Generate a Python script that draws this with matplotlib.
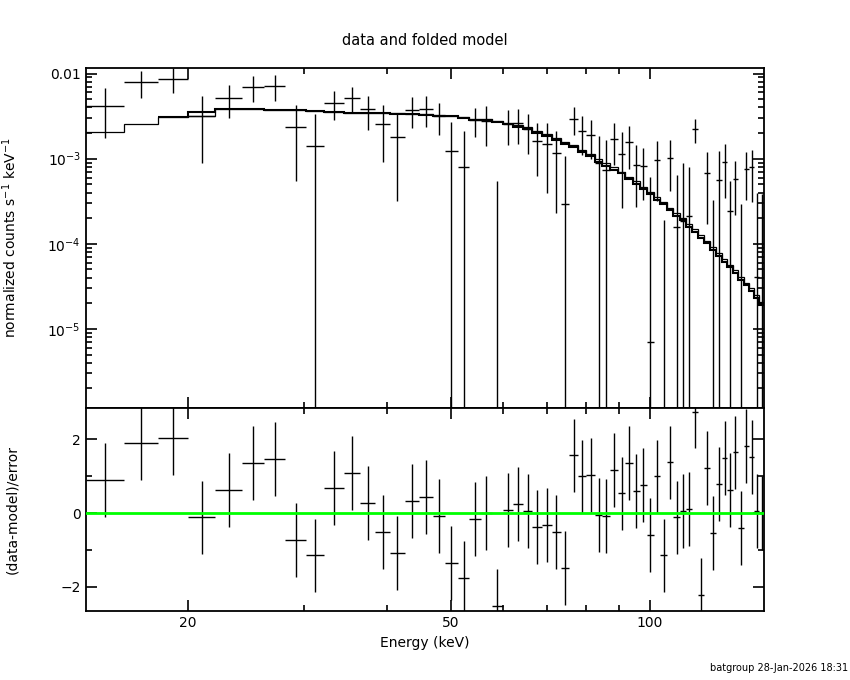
import numpy as np
import matplotlib
matplotlib.use("Agg")
import matplotlib.pyplot as plt
from matplotlib.ticker import FixedLocator, FixedFormatter, NullFormatter

# bin edges in keV (59 bins, 14-150 keV)
edges = np.array([14.0, 16.0, 18.0, 20.0, 22.0, 24.1, 26.1, 28.0, 30.2, 32.1,
                  34.4, 36.4, 38.4, 40.4, 42.6, 44.7, 47.0, 49.0, 51.2, 53.3,
                  55.5, 57.7, 59.9, 62.1, 64.3, 66.4, 68.8, 71.1, 73.4, 75.6,
                  77.9, 80.2, 82.5, 84.8, 87.2, 89.5, 91.9, 94.3, 96.6, 99.0,
                  101.4, 103.8, 106.2, 108.6, 111.1, 113.6, 116.0, 118.5, 121.0, 123.5,
                  126.1, 128.6, 131.0, 133.5, 136.1, 138.7, 141.3, 143.9, 146.5, 149.1])

# normalized counts s^-1 keV^-1
flux = np.array([4.21e-3, 7.9e-3, 8.73e-3, 3.2e-3, 5.23e-3, 6.95e-3, 7.23e-3, 2.38e-3, 1.42e-3, 4.56e-3,
                 5.23e-3, 3.84e-3, 2.58e-3, 1.82e-3, 3.77e-3, 3.88e-3, 3.2e-3, 1.24e-3, 7.9e-4, 2.88e-3,
                 2.8e-3, -8.7e-4, 2.57e-3, 2.65e-3, 2.22e-3, 1.63e-3, 1.5e-3, 1.18e-3, 2.9e-4, 2.96e-3,
                 2.13e-3, 1.91e-3, 9.0e-4, 7.4e-4, 1.72e-3, 1.15e-3, 1.58e-3, 8.5e-4, 8.3e-4, 7.0e-6,
                 9.7e-4, -4.0e-4, 1.03e-3, 1.56e-4, 1.87e-4, 2.1e-4, 2.21e-3, -1.0e-3, 6.8e-4, -1.6e-4,
                 5.66e-4, 9.2e-4, 2.44e-4, 5.8e-4, -1.3e-4, 7.6e-4, 7.9e-4, 4.1e-5, 2.0e-5])

flux_err = np.array([2.48e-3, 2.8e-3, 2.8e-3, 2.3e-3, 2.2e-3, 2.35e-3, 2.5e-3, 1.84e-3, 1.96e-3, 1.75e-3,
                     1.67e-3, 1.67e-3, 1.66e-3, 1.5e-3, 1.5e-3, 1.53e-3, 1.28e-3, 1.43e-3, 1.3e-3, 1.1e-3,
                     1.4e-3, 1.41e-3, 1.13e-3, 1.15e-3, 1.1e-3, 1.0e-3, 1.1e-3, 9.5e-4, 7.9e-4, 1.06e-3,
                     1.02e-3, 9.1e-4, 9.3e-4, 9.0e-4, 8.8e-4, 8.9e-4, 8.2e-4, 5.8e-4, 5.0e-4, 6.1e-4,
                     6.5e-4, 5.9e-4, 6.1e-4, 4.8e-4, 7.1e-4, 5.8e-4, 6.9e-4, 5.0e-4, 5.1e-4, 4.9e-4,
                     6.5e-4, 5.7e-4, 3.1e-4, 3.6e-4, 4.2e-4, 4.3e-4, 4.8e-4, 3.5e-4, 3.7e-4])

# folded model (thick line starts at the third bin)
model = np.array([3.08e-3, 3.53e-3, 3.84e-3, 3.88e-3, 3.77e-3, 3.73e-3, 3.67e-3, 3.51e-3,
                  3.41e-3, 3.41e-3, 3.41e-3, 3.38e-3, 3.38e-3, 3.3e-3, 3.17e-3, 3.17e-3, 3.0e-3, 2.88e-3,
                  2.85e-3, 2.7e-3, 2.55e-3, 2.35e-3, 2.23e-3, 2.02e-3, 1.83e-3, 1.67e-3, 1.49e-3, 1.36e-3,
                  1.21e-3, 1.07e-3, 9.2e-4, 8.3e-4, 7.4e-4, 6.7e-4, 5.7e-4, 5.1e-4, 4.4e-4, 3.87e-4,
                  3.3e-4, 2.9e-4, 2.47e-4, 2.13e-4, 1.88e-4, 1.57e-4, 1.38e-4, 1.16e-4, 1.01e-4, 8.5e-5,
                  7.2e-5, 6.2e-5, 5.3e-5, 4.5e-5, 3.8e-5, 3.26e-5, 2.77e-5, 2.3e-5, 1.93e-5])

model_thin = np.array([2.08e-3, 2.58e-3, 3.08e-3, 3.2e-3, 3.84e-3, 3.88e-3, 3.77e-3, 3.70e-3, 3.62e-3, 3.51e-3,
                       3.45e-3, 3.43e-3, 3.41e-3, 3.41e-3, 3.36e-3, 3.33e-3, 3.22e-3, 3.14e-3, 3.05e-3, 2.95e-3,
                       2.9e-3, 2.78e-3, 2.62e-3, 2.5e-3, 2.33e-3, 2.12e-3, 1.93e-3, 1.76e-3, 1.58e-3, 1.43e-3,
                       1.28e-3, 1.13e-3, 9.9e-4, 8.8e-4, 7.9e-4, 7.0e-4, 6.1e-4, 5.4e-4, 4.7e-4, 4.1e-4,
                       3.55e-4, 3.1e-4, 2.65e-4, 2.3e-4, 2.0e-4, 1.7e-4, 1.48e-4, 1.26e-4, 1.08e-4, 9.2e-5,
                       7.8e-5, 6.7e-5, 5.7e-5, 4.9e-5, 4.1e-5, 3.5e-5, 3.0e-5, 2.5e-5, 2.1e-5])

# (data-model)/error
resid = np.array([0.89, 1.89, 2.02, -0.12, 0.62, 1.35, 1.46, -0.74, -1.15, 0.67,
                  1.08, 0.26, -0.52, -1.09, 0.33, 0.43, -0.08, -1.36, -1.77, -0.16,
                  0.0, -2.53, 0.08, 0.24, 0.05, -0.39, -0.33, -0.52, -1.50, 1.56,
                  0.99, 1.02, -0.05, -0.08, 1.16, 0.53, 1.36, 0.60, 0.75, -0.60,
                  0.99, -1.15, 1.37, -0.12, 0.05, 0.10, 2.75, -2.23, 1.21, -0.55,
                  0.78, 1.48, 0.62, 1.64, -0.41, 1.81, 1.51, 0.05, 0.0])

top_ticks = [1e-5, 1e-4, 1e-3, 1e-2]
top_labels = [r'$10^{-5}$', r'$10^{-4}$', r'$10^{-3}$', '0.01']
x_ticks = [20, 50, 100]
x_labels = ['20', '50', '100']

emid = 0.5 * (edges[:-1] + edges[1:])
elo = edges[:-1]
ehi = edges[1:]
floor = 1e-8

fig = plt.figure(figsize=(8.5, 6.8), dpi=100)
ax1 = fig.add_axes([0.1008, 0.4, 0.7984, 0.4996])
ax2 = fig.add_axes([0.1008, 0.101, 0.7984, 0.299], sharex=ax1)

# top panel: data crosses
pos = flux > 0
ax1.hlines(flux[pos], elo[pos], ehi[pos], color='k', lw=1.0)
top = flux + flux_err
bot = np.where(flux - flux_err > 0, flux - flux_err, floor)
vis = top > 0
ax1.vlines(emid[vis], bot[vis], top[vis], color='k', lw=1.0)

ax1.stairs(model_thin, edges, color='k', lw=0.9, baseline=None)
ax1.stairs(model, edges[2:], color='k', lw=1.5, baseline=None)

ax1.set_xscale('log')
ax1.set_yscale('log')
ax1.set_xlim(14.0, 149.1)
ax1.set_ylim(1.18e-6, 1.153e-2)
ax1.yaxis.set_major_locator(FixedLocator(top_ticks))
ax1.yaxis.set_major_formatter(FixedFormatter(top_labels))
ax1.set_ylabel(r'normalized counts s$^{-1}$ keV$^{-1}$', fontsize=10)
ax1.set_title('data and folded model', fontsize=10.5, pad=17)

# bottom panel: residuals
ax2.errorbar(emid, resid, xerr=[emid - elo, ehi - emid], yerr=1.0,
             fmt='none', ecolor='k', elinewidth=1.0, capsize=0)
ax2.axhline(0.0, color='#00ff00', lw=2.0, zorder=3)
ax2.set_ylim(-2.664, 2.845)
ax2.yaxis.set_major_locator(FixedLocator([-2, 0, 2]))
ax2.yaxis.set_minor_locator(FixedLocator([-1, 1]))
ax2.set_ylabel('(data-model)/error', fontsize=10)
ax2.set_xlabel('Energy (keV)', fontsize=10)

ax2.xaxis.set_major_locator(FixedLocator(x_ticks))
ax2.xaxis.set_major_formatter(FixedFormatter(x_labels))
ax2.xaxis.set_minor_locator(FixedLocator([30, 40, 60, 70, 80, 90]))
ax2.xaxis.set_minor_formatter(NullFormatter())
plt.setp(ax1.get_xticklabels(), visible=False)

for ax in (ax1, ax2):
    ax.tick_params(which='both', direction='in', top=True, right=True,
                   labelsize=10, width=1.2)
    ax.tick_params(which='major', length=8)
    ax.tick_params(which='minor', length=4)
    for s in ax.spines.values():
        s.set_linewidth(1.3)
    ax.yaxis.set_label_coords(-0.098, 0.5)

fig.text(0.998, 0.01, 'batgroup 28-Jan-2026 18:31', ha='right', va='bottom', fontsize=7)

fig.savefig('out.png', dpi=100)
